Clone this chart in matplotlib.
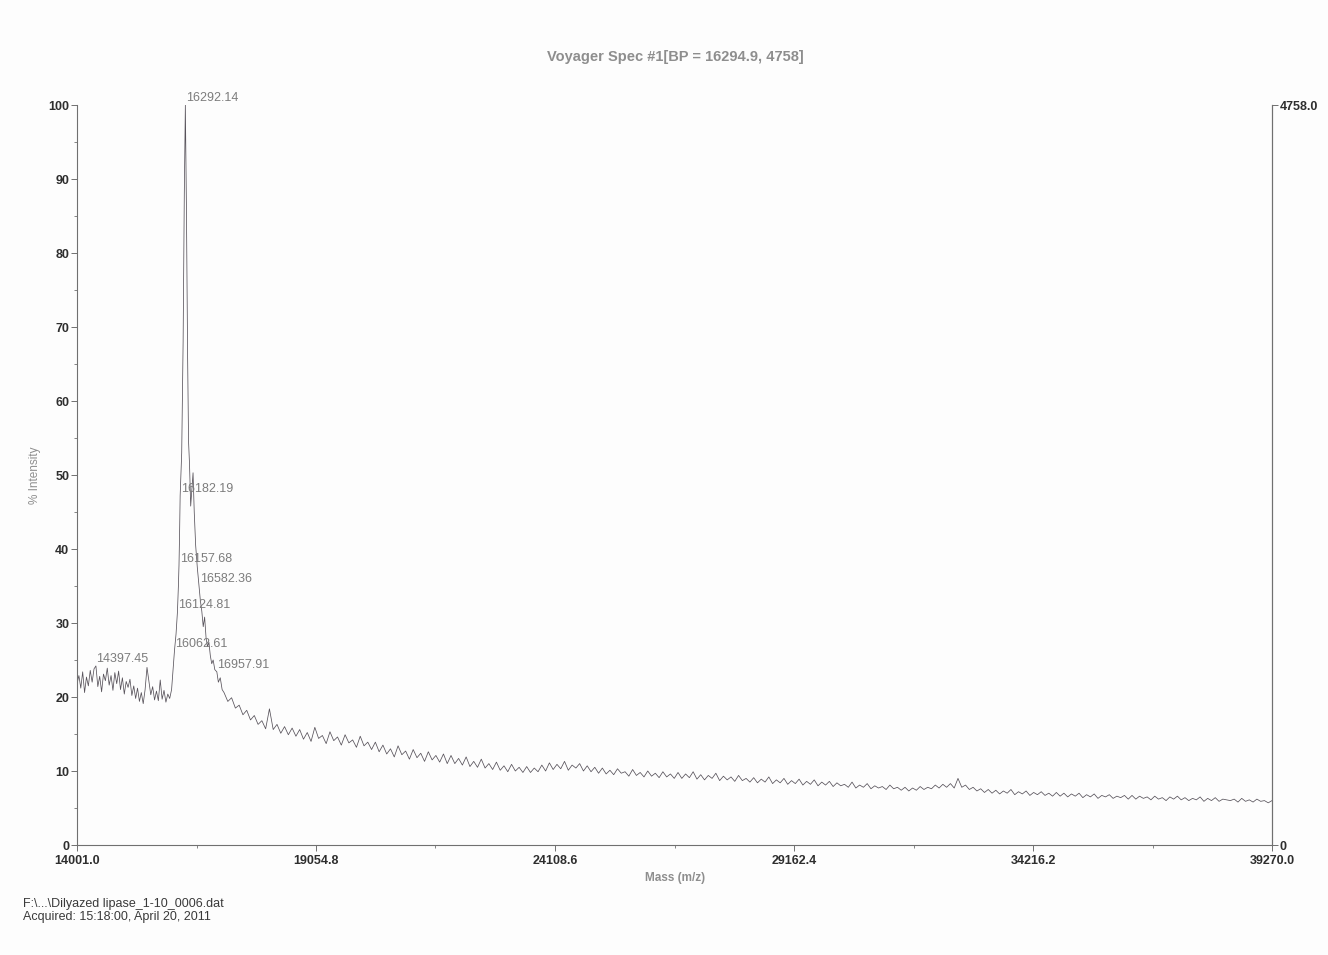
import numpy as np
import matplotlib
matplotlib.use("Agg")
import matplotlib.pyplot as plt
from matplotlib.ticker import MultipleLocator, FixedLocator

plt.rcParams['font.family'] = ['Liberation Sans', 'DejaVu Sans']

# ---------------------------------------------------------------
# Spectrum data (m/z vs % intensity)
# ---------------------------------------------------------------
# low-mass baseline, sampled every 40 Da from 14001
lead_start, lead_step = 14001.0, 40.0
lead_intensity = [
    21.8, 22.9, 21.2, 23.4, 20.6, 22.7, 21.5, 23.6, 22.0, 23.8,
    24.2, 21.4, 22.8, 20.7, 23.1, 22.2, 23.9, 21.6, 22.9, 20.9,
    23.3, 21.8, 23.5, 21.0, 22.6, 20.4, 22.1, 21.3, 22.4, 20.2,
    21.5, 19.8, 21.2, 19.4, 20.6, 19.1, 21.0, 24.0, 22.1, 20.3,
    21.4, 19.6, 20.8, 19.5, 22.3, 19.7, 20.9, 19.3, 20.4, 19.8,
]

# main protein peak region
peak_mass = [
    16001.0, 16031.0, 16062.61, 16095.0, 16124.81, 16145.0, 16157.68,
    16170.0, 16182.19, 16215.0, 16245.0, 16270.0, 16292.14, 16315.0,
    16340.0, 16360.0, 16380.0, 16405.0, 16430.0, 16455.0, 16480.0,
    16510.0, 16545.0, 16582.36, 16610.0, 16640.0, 16670.0, 16700.0,
    16730.0, 16760.0, 16790.0, 16820.0, 16850.0, 16880.0, 16915.0,
    16957.91, 16990.0, 17030.0, 17070.0,
]
peak_intensity = [
    21.0, 23.5, 26.3, 28.5, 31.5, 35.0, 37.8,
    42.0, 47.2, 53.0, 68.0, 88.0, 100.0, 86.0,
    66.0, 54.5, 51.5, 45.8, 48.0, 50.3, 45.0,
    40.5, 37.5, 35.0, 33.0, 31.6, 29.5, 30.8,
    28.0, 26.8, 27.4, 25.6, 24.5, 25.0, 23.7,
    23.4, 22.0, 22.6, 21.0,
]

# high-mass tail, sampled every 80 Da from 17110 to 39270
tail_start, tail_step = 17110.0, 80.0
tail_intensity = [
    20.6, 19.4, 19.9, 18.5, 18.9, 17.6, 18.2, 16.9, 17.5, 16.3,
    16.8, 15.7, 18.4, 15.6, 16.3, 15.1, 16.0, 14.9, 15.8, 14.7,
    15.6, 14.3, 15.2, 14.0, 15.9, 14.4, 14.8, 13.7, 15.3, 14.1,
    14.6, 13.5, 14.9, 13.8, 14.2, 13.2, 14.7, 13.4, 13.9, 12.9,
    13.9, 12.6, 13.5, 12.3, 13.0, 11.9, 13.4, 12.2, 12.7, 11.6,
    12.9, 11.8, 12.4, 11.3, 12.6, 11.5, 12.1, 11.2, 12.3, 11.0,
    12.1, 11.0, 11.7, 10.8, 11.9, 10.6, 11.3, 10.5, 11.6, 10.4,
    11.0, 10.2, 11.2, 10.1, 10.7, 9.9, 10.9, 10.0, 10.5, 9.8,
    10.6, 9.8, 10.4, 9.9, 10.8, 10.0, 11.1, 10.2, 10.9, 10.3,
    11.3, 10.1, 10.8, 10.4, 11.0, 10.0, 10.7, 9.9, 10.5, 9.7,
    10.4, 9.6, 10.1, 9.5, 10.3, 9.7, 9.9, 9.3, 10.2, 9.4,
    9.8, 9.2, 10.0, 9.3, 9.7, 9.1, 9.9, 9.2, 9.6, 9.0,
    9.8, 9.0, 9.6, 9.1, 9.9, 8.9, 9.5, 8.8, 9.4, 9.0,
    9.7, 8.7, 9.3, 8.8, 9.2, 8.6, 9.4, 8.7, 9.0, 8.5,
    9.1, 8.4, 8.9, 8.5, 9.2, 8.3, 8.8, 8.4, 9.0, 8.2,
    8.7, 8.3, 8.9, 8.1, 8.6, 8.2, 8.8, 8.0, 8.5, 8.1,
    8.6, 7.9, 8.4, 8.0, 8.2, 7.8, 8.5, 7.7, 8.1, 7.8,
    8.3, 7.6, 8.0, 7.7, 7.9, 7.5, 8.1, 7.6, 7.8, 7.4,
    7.8, 7.3, 7.7, 7.4, 7.9, 7.5, 7.8, 7.6, 8.1, 7.7,
    8.2, 7.8, 8.3, 7.7, 9.0, 7.8, 8.1, 7.5, 7.8, 7.3,
    7.6, 7.1, 7.5, 7.0, 7.4, 6.9, 7.3, 7.0, 7.5, 6.8,
    7.2, 6.9, 7.3, 6.7, 7.1, 6.8, 7.2, 6.7, 7.0, 6.6,
    7.1, 6.6, 7.0, 6.5, 6.9, 6.6, 7.0, 6.4, 6.8, 6.5,
    6.9, 6.3, 6.7, 6.5, 6.8, 6.3, 6.6, 6.4, 6.7, 6.2,
    6.7, 6.2, 6.6, 6.3, 6.5, 6.1, 6.6, 6.2, 6.4, 6.0,
    6.5, 6.2, 6.6, 6.1, 6.4, 6.0, 6.3, 6.1, 6.5, 5.9,
    6.3, 6.0, 6.4, 5.9, 6.2, 6.1, 6.0, 6.2, 5.8, 6.3,
    5.9, 6.1, 5.8, 6.2, 5.9, 6.0, 5.7, 6.0,
]

# centroid masses annotated on the trace
label_masses = [14397.45, 16062.61, 16124.81, 16157.68,
                16182.19, 16292.14, 16582.36, 16957.91]

x_ticks = [14001.0, 19054.8, 24108.6, 29162.4, 34216.2, 39270.0]
y_ticks = [0, 10, 20, 30, 40, 50, 60, 70, 80, 90, 100]
base_peak_counts = 4758.0

title_text = "Voyager Spec #1[BP = 16294.9, 4758]"
footer_lines = ["F:\\...\\Dilyazed lipase_1-10_0006.dat",
                "Acquired: 15:18:00, April 20, 2011"]

# ---------------------------------------------------------------
lead_mass = lead_start + lead_step * np.arange(len(lead_intensity))
tail_mass = tail_start + tail_step * np.arange(len(tail_intensity))
mass = np.concatenate([lead_mass, peak_mass, tail_mass])
intensity = np.concatenate([lead_intensity, peak_intensity, tail_intensity])

W, H = 1328, 955
fig = plt.figure(figsize=(W / 100, H / 100), dpi=100)
fig.patch.set_facecolor('#fdfdfd')

ax_left, ax_right, ax_top, ax_bottom = 77, 1272, 105, 845
ax = fig.add_axes([ax_left / W, 1 - ax_bottom / H,
                   (ax_right - ax_left) / W, (ax_bottom - ax_top) / H])
ax.set_facecolor('none')

ax.plot(mass, intensity, color='#57525a', lw=0.55)

ax.set_xlim(x_ticks[0], x_ticks[-1])
ax.set_ylim(0, 100)

axis_col = '#707070'
for side in ('left', 'bottom', 'right'):
    ax.spines[side].set_color(axis_col)
    ax.spines[side].set_linewidth(0.8)
ax.spines['top'].set_visible(False)

ax.xaxis.set_major_locator(FixedLocator(x_ticks))
ax.xaxis.set_minor_locator(FixedLocator(
    [(a + b) / 2 for a, b in zip(x_ticks[:-1], x_ticks[1:])]))
ax.set_xticklabels([f"{t:.1f}" for t in x_ticks],
                   fontweight='bold', color='#2e2e2e')
ax.yaxis.set_major_locator(FixedLocator(y_ticks))
ax.yaxis.set_minor_locator(MultipleLocator(5))
ax.set_yticklabels([str(t) for t in y_ticks],
                   fontweight='bold', color='#2e2e2e')

ax.tick_params(axis='both', which='major', labelsize=9, colors=axis_col,
               length=4, width=0.7, direction='out')
ax.tick_params(axis='both', which='minor', colors=axis_col,
               length=2.5, width=0.6, direction='out')
ax.tick_params(axis='x', which='major', pad=3, labelcolor='#2e2e2e')
ax.tick_params(axis='y', which='major', pad=1.5, labelcolor='#2e2e2e')

# right-hand absolute intensity scale
ax2 = ax.twinx()
ax2.set_ylim(0, 100)
ax2.set_yticks([0, 100])
ax2.set_yticklabels(['0', f"{base_peak_counts:.1f}"],
                    fontweight='bold', color='#2e2e2e')
ax2.tick_params(axis='y', labelsize=9, colors=axis_col, length=4,
                width=0.7, pad=1.5, labelcolor='#2e2e2e')
for side in ('left', 'bottom', 'top'):
    ax2.spines[side].set_visible(False)
ax2.spines['right'].set_color(axis_col)
ax2.spines['right'].set_linewidth(0.8)

# peak annotations, anchored on the trace
for m in label_masses:
    y = float(np.interp(m, mass, intensity))
    ax.annotate(f"{m:.2f}", xy=(m, y), xytext=(0.5, 0.5),
                textcoords='offset points', ha='left', va='bottom',
                fontsize=9, color='#7c7c7c')

fig.text(675 / W, 1 - 57 / H, title_text, ha='center', va='center',
         fontsize=10.5, fontweight='bold', color='#8e8e8e')
fig.text(675 / W, 1 - 878 / H, "Mass (m/z)", ha='center', va='center',
         fontsize=8.5, fontweight='bold', color='#8e8e8e')
fig.text(35 / W, 1 - 475 / H, "% Intensity", ha='center', va='center',
         rotation=90, fontsize=8.5, color='#8e8e8e')

fig.text(23 / W, 1 - 904 / H, footer_lines[0], ha='left', va='center',
         fontsize=9, color='#3a3a3a')
fig.text(23 / W, 1 - 917 / H, footer_lines[1], ha='left', va='center',
         fontsize=9, color='#3a3a3a')

fig.savefig("out.png", dpi=100, facecolor=fig.get_facecolor())
